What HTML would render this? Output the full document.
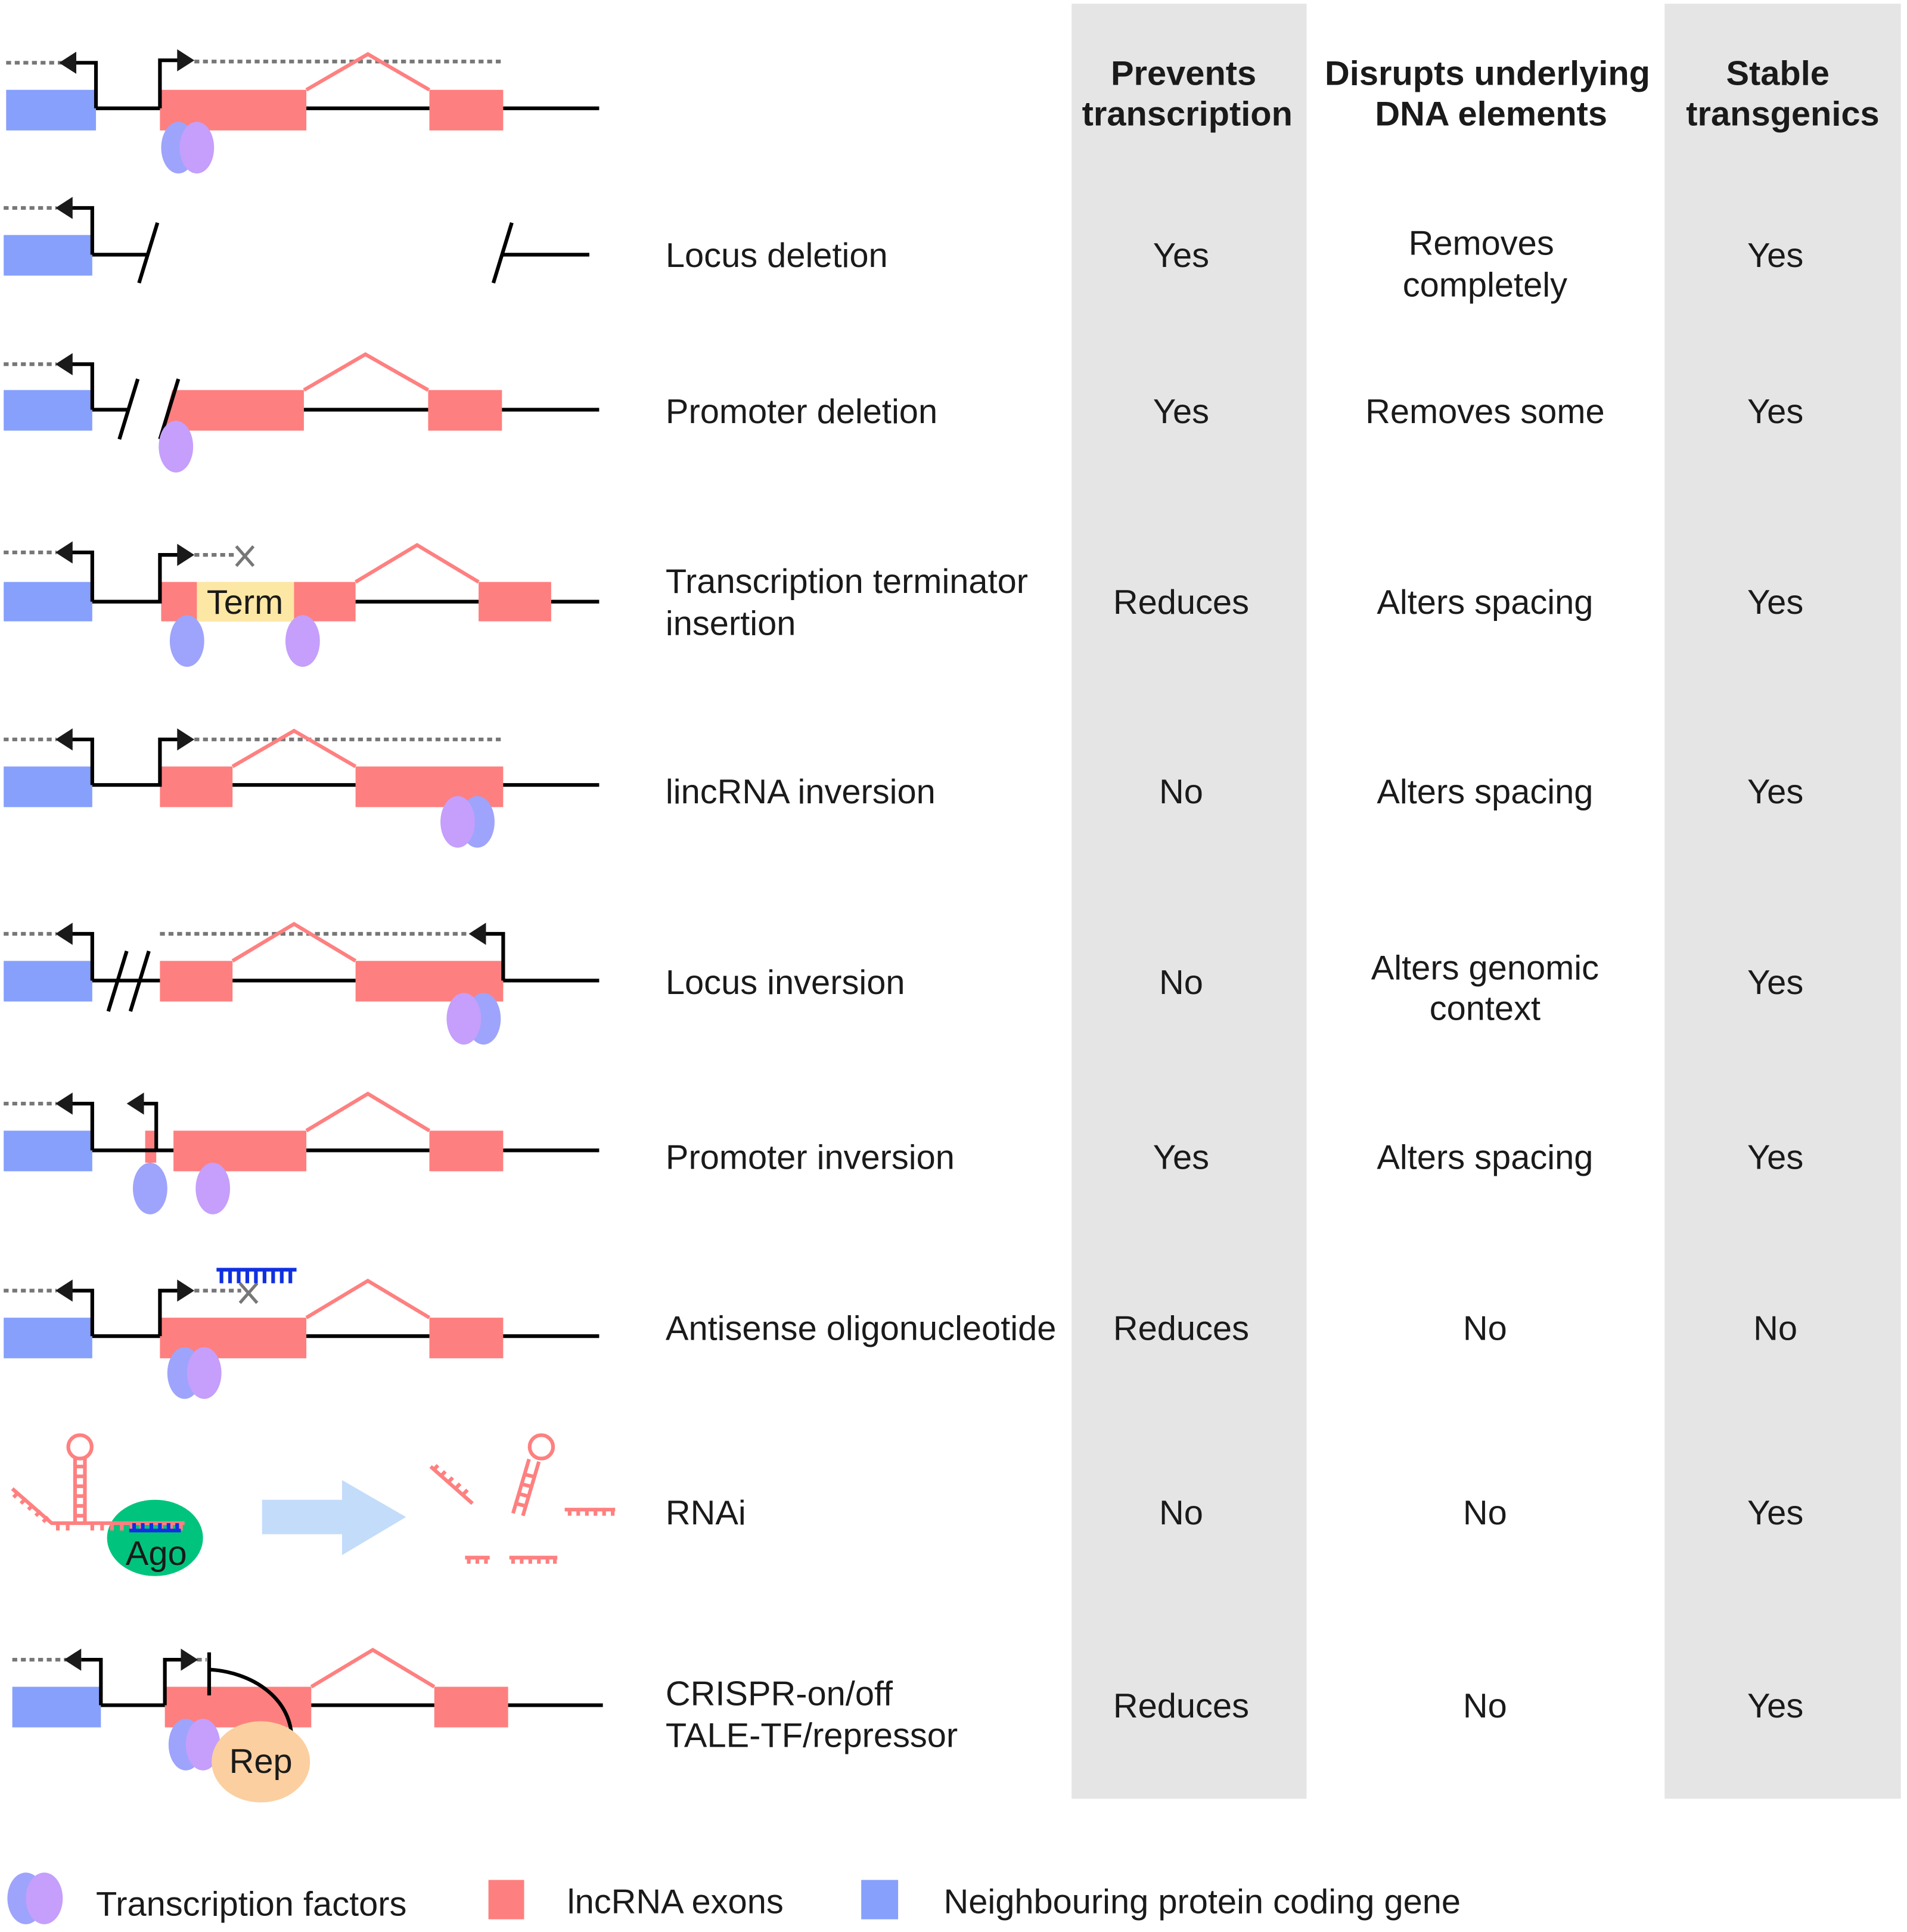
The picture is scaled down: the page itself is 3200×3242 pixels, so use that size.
<!DOCTYPE html>
<html><head><meta charset="utf-8"><style>
html,body{margin:0;padding:0;background:#fff}
svg{display:block}
text{font-family:"Liberation Sans",Arial,sans-serif;font-size:28px;fill:#1a1a1a}
.b{font-weight:bold;font-size:28px}
.k{stroke:#000;stroke-width:3;fill:none}
.d{stroke:#777;stroke-width:3;stroke-dasharray:4 3;fill:none}
.s{stroke:#fe8080;stroke-width:3;fill:none}
.r{fill:#fe7f7f}.bl{fill:#86a0fc}
.tb{fill:#9ea4fb}.tp{fill:#c59ffb}
.c{text-anchor:middle}
</style></head><body>
<svg width="3200" height="3242" viewBox="0 0 1550 1570.3" xmlns="http://www.w3.org/2000/svg">
<rect x="871" y="3" width="191" height="1459" fill="#e5e5e5"/>
<rect x="1353" y="3" width="192" height="1459" fill="#e5e5e5"/>
<text class="b c" x="962" y="69">Prevents</text><text class="b c" x="965" y="102">transcription</text>
<text class="b c" x="1209" y="69">Disrupts underlying</text><text class="b c" x="1212" y="102">DNA elements</text>
<text class="b c" x="1445" y="69">Stable</text><text class="b c" x="1449" y="102">transgenics</text>

<g>
<text x="541" y="217">Locus deletion</text>
<text x="541" y="344">Promoter deletion</text>
<text x="541" y="482">Transcription terminator</text><text x="541" y="516">insertion</text>
<text x="541" y="653">lincRNA inversion</text>
<text x="541" y="808">Locus inversion</text>
<text x="541" y="950">Promoter inversion</text>
<text x="541" y="1089">Antisense oligonucleotide</text>
<text x="541" y="1239">RNAi</text>
<text x="541" y="1386">CRISPR-on/off</text><text x="541" y="1420">TALE-TF/repressor</text>
</g>
<g>
<text class="c" x="960" y="217">Yes</text><text class="c" x="1204" y="207">Removes</text><text class="c" x="1207" y="241">completely</text><text class="c" x="1443" y="217">Yes</text>
<text class="c" x="960" y="344">Yes</text><text class="c" x="1207" y="344">Removes some</text><text class="c" x="1443" y="344">Yes</text>
<text class="c" x="960" y="499">Reduces</text><text class="c" x="1207" y="499">Alters spacing</text><text class="c" x="1443" y="499">Yes</text>
<text class="c" x="960" y="653">No</text><text class="c" x="1207" y="653">Alters spacing</text><text class="c" x="1443" y="653">Yes</text>
<text class="c" x="960" y="808">No</text><text class="c" x="1207" y="796">Alters genomic</text><text class="c" x="1207" y="829">context</text><text class="c" x="1443" y="808">Yes</text>
<text class="c" x="960" y="950">Yes</text><text class="c" x="1207" y="950">Alters spacing</text><text class="c" x="1443" y="950">Yes</text>
<text class="c" x="960" y="1089">Reduces</text><text class="c" x="1207" y="1089">No</text><text class="c" x="1443" y="1089">No</text>
<text class="c" x="960" y="1239">No</text><text class="c" x="1207" y="1239">No</text><text class="c" x="1443" y="1239">Yes</text>
<text class="c" x="960" y="1396">Reduces</text><text class="c" x="1207" y="1396">No</text><text class="c" x="1443" y="1396">Yes</text>
</g>

<!-- Row 1 -->
<rect class="bl" x="5" y="73" width="73" height="33"/>
<rect class="r" x="130" y="73" width="119" height="33"/><rect class="r" x="349" y="73" width="60" height="33"/>
<path class="k" d="M78 88H130M249 88H349M409 88H487"/>
<path class="d" d="M5 51H50M158 50H409"/>
<path class="s" d="M249 73L299 44L349 73"/>
<path class="k" d="M78 88V51H60M130 88V49H146"/>
<path d="M48 51L62 42V60Z M158 49L144 40V58Z" fill="#1a1a1a"/>
<ellipse class="tb" cx="145" cy="120" rx="14" ry="21"/><ellipse class="tp" cx="160" cy="120" rx="14" ry="21"/>

<!-- Row 2 -->
<rect class="bl" x="3" y="191" width="72" height="33"/>
<path class="d" d="M3 169H46"/>
<path class="k" d="M75 207V169H58M75 207H120M408 207H479M113 230L128 181M401 230L416 181"/>
<path d="M45 169L59 160V178Z" fill="#1a1a1a"/>

<!-- Row 3 -->
<rect class="bl" x="3" y="317" width="72" height="33"/>
<path class="r" d="M140 317H247V350H131Z"/><rect class="r" x="348" y="317" width="60" height="33"/>
<path class="d" d="M3 296H46"/>
<path class="k" d="M75 333V296H58M75 333H105M247 333H348M408 333H487M97 357L112 308M130 357L145 308"/>
<path class="s" d="M247 317L297 288L348 317"/>
<path d="M45 296L59 287V305Z" fill="#1a1a1a"/>
<ellipse class="tp" cx="143" cy="363" rx="14" ry="21"/>

<!-- Row 4 -->
<rect class="bl" x="3" y="473" width="72" height="32"/>
<rect class="r" x="131" y="473" width="158" height="32"/><rect fill="#fde7a4" x="160" y="473" width="79" height="32"/>
<rect class="r" x="389" y="473" width="59" height="32"/>
<text x="168" y="499">Term</text>
<path class="d" d="M3 449H46M158 451H192"/>
<path class="k" d="M75 489V449H58M75 489H130V451H146M289 489H389M448 489H487"/>
<path class="s" d="M289 473L339 443L389 473"/>
<path d="M45 449L59 440V458Z M158 451L144 442V460Z" fill="#1a1a1a"/>
<path d="M192 444L206 460M206 444L192 460" stroke="#777" stroke-width="2.5"/>
<ellipse class="tb" cx="152" cy="521" rx="14" ry="21"/><ellipse class="tp" cx="246" cy="521" rx="14" ry="21"/>

<!-- Row 5 -->
<rect class="bl" x="3" y="623" width="72" height="33"/>
<rect class="r" x="130" y="623" width="59" height="33"/><rect class="r" x="289" y="623" width="120" height="33"/>
<path class="d" d="M3 601H46M158 601H409"/>
<path class="k" d="M75 638V601H58M75 638H130V601H146M189 638H289M409 638H487"/>
<path class="s" d="M189 623L239 594L289 623"/>
<path d="M45 601L59 592V610Z M158 601L144 592V610Z" fill="#1a1a1a"/>
<ellipse class="tb" cx="388" cy="668" rx="14" ry="21"/><ellipse class="tp" cx="372" cy="668" rx="14" ry="21"/>

<!-- Row 6 -->
<rect class="bl" x="3" y="781" width="72" height="33"/>
<rect class="r" x="130" y="781" width="59" height="33"/><rect class="r" x="289" y="781" width="120" height="33"/>
<path class="d" d="M3 759H46M130 759H382"/>
<path class="k" d="M75 797V759H58M75 797H130M189 797H289M409 797H487M409 797V759H393M88 822L103 773M106 822L121 773"/>
<path class="s" d="M189 781L239 751L289 781"/>
<path d="M45 759L59 750V768Z M381 759L395 750V768Z" fill="#1a1a1a"/>
<ellipse class="tb" cx="393" cy="828" rx="14" ry="21"/><ellipse class="tp" cx="377" cy="828" rx="14" ry="21"/>

<!-- Row 7 -->
<rect class="bl" x="3" y="919" width="72" height="33"/>
<rect class="r" x="118" y="919" width="9" height="26"/>
<rect class="r" x="141" y="919" width="108" height="33"/><rect class="r" x="349" y="919" width="60" height="33"/>
<path class="d" d="M3 897H46"/>
<path class="k" d="M75 935V897H58M75 935H141M249 935H349M409 935H487M127 935V897H115"/>
<path class="s" d="M249 919L299 889L349 919"/>
<path d="M45 897L59 888V906Z M103 897L117 888V906Z" fill="#1a1a1a"/>
<ellipse class="tb" cx="122" cy="966" rx="14" ry="21"/><ellipse class="tp" cx="173" cy="966" rx="14" ry="21"/>

<!-- Row 8 -->
<rect class="bl" x="3" y="1071" width="72" height="33"/>
<rect class="r" x="130" y="1071" width="119" height="33"/><rect class="r" x="349" y="1071" width="60" height="33"/>
<path class="d" d="M3 1049H46M158 1049H196"/>
<path class="k" d="M75 1086V1049H58M75 1086H130M249 1086H349M409 1086H487M130 1086V1049H146"/>
<path class="s" d="M249 1071L299 1041L349 1071"/>
<path d="M45 1049L59 1040V1058Z M158 1049L144 1040V1058Z" fill="#1a1a1a"/>
<path d="M195 1043L209 1059M209 1043L195 1059" stroke="#777" stroke-width="2.5"/>
<path d="M176 1032H241M180 1032V1043M187 1032V1043M194 1032V1043M201 1032V1043M208 1032V1043M215 1032V1043M222 1032V1043M229 1032V1043M236 1032V1043" stroke="#1030e0" stroke-width="3" fill="none"/>
<ellipse class="tb" cx="150" cy="1116" rx="14" ry="21"/><ellipse class="tp" cx="166" cy="1116" rx="14" ry="21"/>

<!-- Row 9 RNAi -->
<ellipse cx="126" cy="1250" rx="39" ry="31" fill="#00c47e"/>
<g stroke="#fe8080" stroke-width="3" fill="none">
<path d="M10 1210L42 1238H150"/>
<path d="M11 1217l4-4M17 1222l4-4M23 1227l4-4M29 1232l4-4M35 1237l4-4M47 1238v6M55 1238v6M75 1238v6M83 1238v6M91 1238v6M99 1238v6M107 1238v6M115 1238v6M123 1238v6M131 1238v6M139 1238v6M147 1238v6"/>
<path d="M61 1238V1185M69 1238V1185M61 1192h8M61 1200h8M61 1208h8M61 1216h8M61 1224h8M61 1232h8"/>
<circle cx="65" cy="1176" r="9.5"/>
<path d="M350 1192L384 1222M356 1191l-4 4M362 1196l-4 4M368 1201l-4 4M374 1206l-4 4M380 1211l-4 4"/>
<path d="M417 1230L430 1186M425 1232L438 1188M419 1222l8 2M421 1214l8 2M423 1206l8 2M425 1198l8 2"/>
<circle cx="440" cy="1176" r="9.5"/>
<path d="M459 1227H500M463 1227v5M470 1227v5M477 1227v5M484 1227v5M491 1227v5M498 1227v5"/>
<path d="M378 1266H398M381 1266v5M388 1266v5M395 1266v5"/>
<path d="M414 1266H453M417 1266v5M424 1266v5M431 1266v5M438 1266v5M445 1266v5M451 1266v5"/>
</g>
<path d="M105 1244H147M109 1244v-6M116 1244v-6M123 1244v-6M130 1244v-6M137 1244v-6M144 1244v-6" stroke="#1030e0" stroke-width="3" fill="none"/>
<text class="c" x="127" y="1272">Ago</text>
<path d="M213 1219H278V1203L330 1233L278 1264V1247H213Z" fill="#c3dcfa"/>

<!-- Row 10 CRISPR -->
<rect class="bl" x="10" y="1371" width="72" height="33"/>
<rect class="r" x="134" y="1371" width="119" height="33"/><rect class="r" x="353" y="1371" width="60" height="33"/>
<path class="d" d="M10 1349H54M160 1349H168"/>
<path class="k" d="M82 1386V1349H66M82 1386H134M253 1386H353M413 1386H490M134 1386V1349H148M170 1343V1378M170 1357C205 1359 236 1380 237 1412"/>
<path class="s" d="M253 1371L303 1341L353 1371"/>
<path d="M52 1349L66 1340V1358Z M161 1349L147 1340V1358Z" fill="#1a1a1a"/>
<ellipse class="tb" cx="151" cy="1418" rx="14" ry="21"/><ellipse class="tp" cx="165" cy="1418" rx="14" ry="21"/>
<ellipse cx="212" cy="1432" rx="40" ry="33" fill="#fbcfa0"/>
<text class="c" x="212" y="1441">Rep</text>

<!-- Legend -->
<ellipse class="tb" cx="21" cy="1543" rx="15" ry="21"/><ellipse class="tp" cx="36" cy="1543" rx="15" ry="21"/>
<text x="78" y="1557">Transcription factors</text>
<rect class="r" x="397" y="1528" width="29" height="32"/>
<text x="461" y="1555">lncRNA exons</text>
<rect class="bl" x="700" y="1528" width="30" height="32"/>
<text x="767" y="1555">Neighbouring protein coding gene</text>
</svg>
</body></html>
